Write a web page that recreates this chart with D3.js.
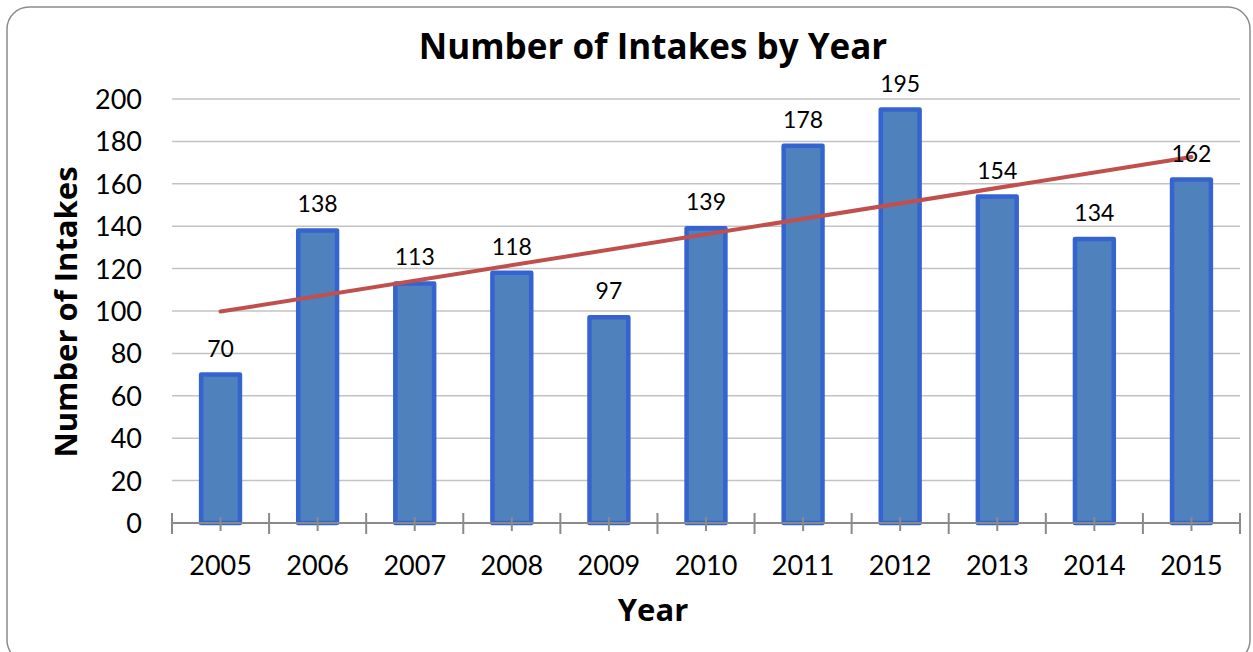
<!DOCTYPE html>
<html>
<head>
<meta charset="utf-8">
<script src="https://cdn.jsdelivr.net/npm/d3@7"></script>
<style>
  body { margin: 0; background: #fff; }
  text { font-family: Lato, "Open Sans", sans-serif; fill: #000; }
  .ttl { font-family: "Open Sans", Lato, sans-serif; font-weight: bold; }
</style>
</head>
<body>
<div id="chart"></div>
<script>
// chart data
var years = ["2005", "2006", "2007", "2008", "2009", "2010", "2011", "2012", "2013", "2014", "2015"];
var intakes = [70, 138, 113, 118, 97, 139, 178, 195, 154, 134, 162];
var yTicks = [0, 20, 40, 60, 80, 100, 120, 140, 160, 180, 200];

var W = 1253, H = 652;
var margin = {top: 99, right: 13, bottom: 129, left: 172};

var svg = d3.select("#chart").append("svg")
    .attr("width", W)
    .attr("height", H);

// chart frame
svg.append("rect")
    .attr("x", 7).attr("y", 7)
    .attr("width", 1243).attr("height", 655)
    .attr("rx", 22).attr("ry", 22)
    .style("fill", "#fff")
    .style("stroke", "#8c8c8c")
    .style("stroke-width", 1.5);

var x = d3.scaleBand()
    .domain(years)
    .range([margin.left, W - margin.right])
    .paddingInner(0)
    .paddingOuter(0);

var y = d3.scaleLinear()
    .domain([0, 200])
    .range([H - margin.bottom, margin.top]);

// gridlines
svg.append("g").selectAll("line")
    .data(yTicks.slice(1))
    .enter().append("line")
    .attr("x1", margin.left)
    .attr("x2", W - margin.right)
    .attr("y1", function(d) { return y(d); })
    .attr("y2", function(d) { return y(d); })
    .style("stroke", "#c3c3c3")
    .style("stroke-width", 1.5);

// y tick labels
var yAxis = svg.append("g")
    .attr("transform", "translate(" + margin.left + ",0)")
    .call(d3.axisLeft(y).tickValues(yTicks).tickSize(0).tickPadding(30));
yAxis.select(".domain").remove();
yAxis.selectAll("text")
    .style("font-family", "Lato, sans-serif")
    .style("font-size", "27px")
    .attr("dy", "0.35em");

// bars
svg.append("g").selectAll("rect")
    .data(intakes)
    .enter().append("rect")
    .attr("x", function(d, i) { return x(years[i]) + x.bandwidth() * 0.3; })
    .attr("width", x.bandwidth() * 0.4)
    .attr("y", function(d) { return y(d); })
    .attr("height", function(d) { return y(0) - y(d); })
    .style("fill", "#4f81bd")
    .style("stroke", "#3564d1")
    .style("stroke-width", 4.5)
    .style("stroke-linejoin", "round");

// x axis: line, boundary ticks and centre ticks
var base = y(0);
var xAxis = svg.append("g");
xAxis.append("line")
    .attr("x1", margin.left).attr("x2", W - margin.right)
    .attr("y1", base).attr("y2", base)
    .style("stroke", "#8a8a8a").style("stroke-width", 2);
var bounds = years.map(function(d) { return x(d); }).concat([W - margin.right]);
xAxis.selectAll(".major")
    .data(bounds)
    .enter().append("line")
    .attr("class", "major")
    .attr("x1", function(d) { return d; }).attr("x2", function(d) { return d; })
    .attr("y1", base - 10).attr("y2", base + 11)
    .style("stroke", "#8a8a8a").style("stroke-width", 2);
xAxis.selectAll(".minor")
    .data(years)
    .enter().append("line")
    .attr("class", "minor")
    .attr("x1", function(d) { return x(d) + x.bandwidth() / 2; })
    .attr("x2", function(d) { return x(d) + x.bandwidth() / 2; })
    .attr("y1", base - 6).attr("y2", base + 8)
    .style("stroke", "#8a8a8a").style("stroke-width", 2);

xAxis.selectAll(".lbl")
    .data(years)
    .enter().append("text")
    .attr("class", "lbl")
    .attr("x", function(d) { return x(d) + x.bandwidth() / 2; })
    .attr("y", 575)
    .attr("text-anchor", "middle")
    .style("font-size", "27px")
    .text(function(d) { return d; });

// linear trendline (least squares over the bars)
var idx = intakes.map(function(d, i) { return i + 1; });
var mx = d3.mean(idx), my = d3.mean(intakes);
var sxy = d3.sum(idx, function(v, i) { return (v - mx) * (intakes[i] - my); });
var sxx = d3.sum(idx, function(v) { return (v - mx) * (v - mx); });
var slope = sxy / sxx, icpt = my - slope * mx;
var trend = [0, years.length - 1].map(function(i) {
    return [x(years[i]) + x.bandwidth() / 2, y(icpt + slope * (i + 1))];
});
svg.append("path")
    .attr("d", d3.line()(trend))
    .style("fill", "none")
    .style("stroke", "#c0504d")
    .style("stroke-width", 4)
    .style("stroke-linecap", "round");

// data labels
svg.append("g").selectAll("text")
    .data(intakes)
    .enter().append("text")
    .attr("x", function(d, i) { return x(years[i]) + x.bandwidth() / 2; })
    .attr("y", function(d) { return y(d) - 18; })
    .attr("text-anchor", "middle")
    .style("font-size", "23px")
    .text(function(d) { return d; });

// titles
svg.append("text")
    .attr("class", "ttl")
    .attr("x", 653).attr("y", 59)
    .attr("text-anchor", "middle")
    .style("font-size", "35px")
    .text("Number of Intakes by Year");

svg.append("text")
    .attr("class", "ttl")
    .attr("x", 653).attr("y", 621)
    .attr("text-anchor", "middle")
    .style("font-size", "31px")
    .text("Year");

svg.append("text")
    .attr("class", "ttl")
    .attr("transform", "translate(77,312) rotate(-90)")
    .attr("text-anchor", "middle")
    .style("font-size", "31px")
    .text("Number of Intakes");
</script>
</body>
</html>
